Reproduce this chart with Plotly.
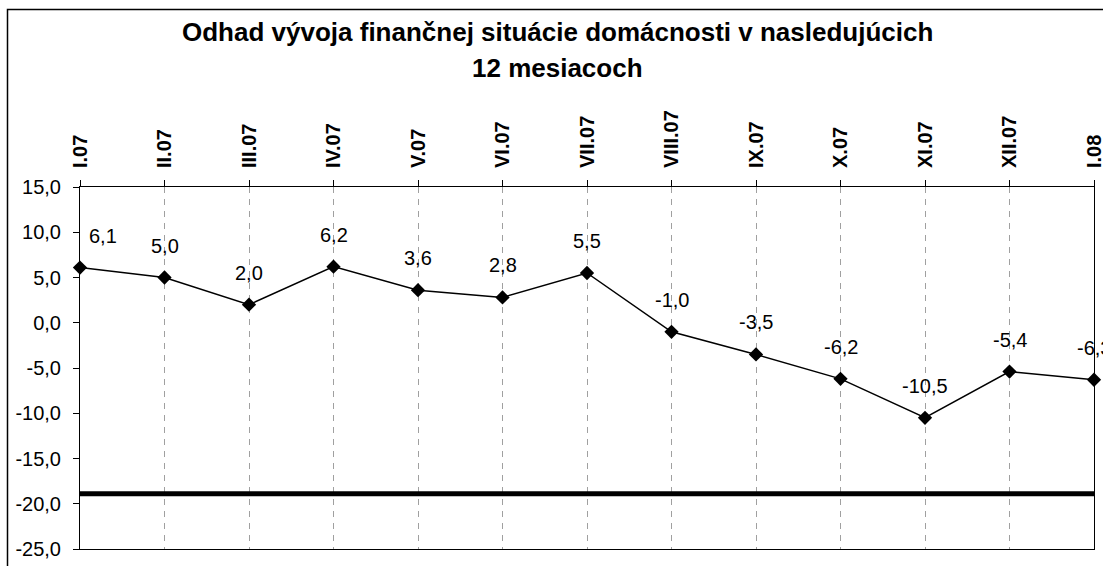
import plotly.graph_objects as go

categories = ["I.07", "II.07", "III.07", "IV.07", "V.07", "VI.07", "VII.07",
              "VIII.07", "IX.07", "X.07", "XI.07", "XII.07", "I.08"]
values = [6.1, 5.0, 2.0, 6.2, 3.6, 2.8, 5.5, -1.0, -3.5, -6.2, -10.5, -5.4, -6.3]
threshold = [-18.9] * len(categories)
y_ticks = [-25, -20, -15, -10, -5, 0, 5, 10, 15]
labels = [f"{v:.1f}".replace(".", ",") for v in values]
y_ticktext = [f"{v:.1f}".replace(".", ",") for v in y_ticks]

FONT = "Arial, Liberation Sans, sans-serif"
W, H = 1103, 566
L, R, T, B = 80, 9, 187, 17
pw, ph = W - L - R, H - T - B

xs = list(range(len(categories)))

fig = go.Figure()
fig.add_trace(go.Scatter(
    x=xs, y=threshold, mode="lines",
    line=dict(color="black", width=5), hoverinfo="skip", showlegend=False,
    cliponaxis=False,
))
fig.add_trace(go.Scatter(
    x=xs, y=values, mode="lines+markers",
    line=dict(color="black", width=1.5),
    marker=dict(symbol="diamond", size=11, color="black"),
    showlegend=False, cliponaxis=False,
))

for i, (v, t) in enumerate(zip(values, labels)):
    fig.add_annotation(
        x=xs[i], y=v, text=t, showarrow=False,
        yshift=32, xshift=23 if i == 0 else 0,
        font=dict(family=FONT, size=20, color="black"),
        xanchor="center", yanchor="middle",
    )

# Title (two lines)
fig.add_annotation(
    xref="paper", yref="paper",
    x=(557 - L) / pw, y=(H - B - 32) / ph,
    text="<b>Odhad vývoja finančnej situácie domácnosti v nasledujúcich</b>",
    showarrow=False, xanchor="center", yanchor="middle",
    font=dict(family=FONT, size=26, color="black"),
)
fig.add_annotation(
    xref="paper", yref="paper",
    x=(557 - L) / pw, y=(H - B - 68) / ph,
    text="<b>12 mesiacoch</b>",
    showarrow=False, xanchor="center", yanchor="middle",
    font=dict(family=FONT, size=26, color="black"),
)

# outer chart border
fig.add_shape(
    type="rect", xref="paper", yref="paper",
    x0=(7.5 - L) / pw, x1=(W + 10 - L) / pw,
    y0=(H - B - (H + 10)) / ph, y1=(H - B - 9.5) / ph,
    line=dict(color="black", width=1.5), layer="above",
)

fig.update_xaxes(
    tickmode="array", tickvals=xs,
    ticktext=[f"<b>{c}</b>" for c in categories],
    range=[0, len(categories) - 1],
    side="top", tickangle=-90,
    ticks="outside", ticklen=6, tickcolor="black",
    ticklabelstandoff=8, ticklabeloverflow="allow", automargin=False,
    tickfont=dict(family=FONT, size=20, color="black"),
    showgrid=True, gridcolor="#a0a0a0", gridwidth=1, griddash="6px,6px",
    showline=True, linecolor="black", linewidth=1, mirror=True,
    zeroline=False,
)
fig.update_yaxes(
    range=[-25, 15], tickmode="array", tickvals=y_ticks, ticktext=y_ticktext,
    ticks="outside", ticklen=6, tickcolor="black",
    ticklabelstandoff=8, ticklabeloverflow="allow", automargin=False,
    tickfont=dict(family=FONT, size=20, color="black"),
    showgrid=False, zeroline=False,
    showline=True, linecolor="black", linewidth=1, mirror=True,
)

fig.update_layout(
    width=W, height=H,
    margin=dict(l=L, r=R, t=T, b=B, autoexpand=False),
    paper_bgcolor="white", plot_bgcolor="white",
    font=dict(family=FONT, color="black"),
    hovermode=False,
)

fig.write_html(
    "out.html",
    config={"displayModeBar": False},
    post_script="document.body.style.margin='0';document.body.style.overflow='hidden';",
)
